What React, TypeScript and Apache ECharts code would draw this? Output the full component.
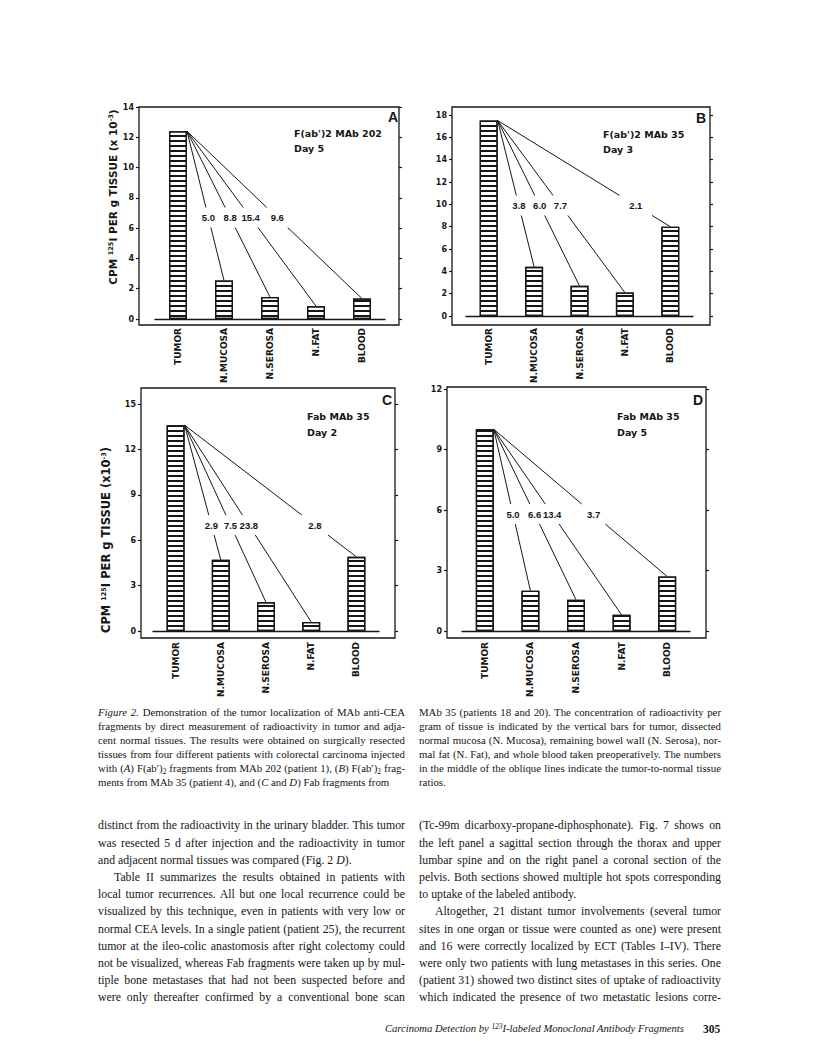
import React, { useEffect, useRef } from 'react';
import * as echarts from 'echarts';

// ---------- data ----------
const CATEGORIES = ['TUMOR', 'N.MUCOSA', 'N.SEROSA', 'N.FAT', 'BLOOD'];

const VALUES_A = [12.4, 2.55, 1.45, 0.85, 1.35];
const RATIOS_A = ['5.0', '8.8', '15.4', '9.6'];
const VALUES_B = [17.5, 4.4, 2.7, 2.1, 8.0];
const RATIOS_B = ['3.8', '6.0', '7.7', '2.1'];
const VALUES_C = [13.6, 4.7, 1.9, 0.6, 4.9];
const RATIOS_C = ['2.9', '7.5', '23.8', '2.8'];
const VALUES_D = [10.0, 2.0, 1.55, 0.8, 2.7];
const RATIOS_D = ['5.0', '6.6', '13.4', '3.7'];

const Y_MAX = [14, 18, 15, 12];
const Y_INTERVAL = [2, 2, 3, 3];
const RATIO_LABEL_LEVEL = [6.7, 9.9, 7.0, 5.8];

const PANEL_LETTERS = ['A', 'B', 'C', 'D'];
const PANEL_TITLES = ["F(ab')2 MAb 202", "F(ab')2 MAb 35", 'Fab MAb 35', 'Fab MAb 35'];
const PANEL_DAYS = ['Day 5', 'Day 3', 'Day 2', 'Day 5'];
const Y_TITLE_TOP = 'CPM {s|125}I PER g TISSUE (x 10{s|-3})';
const Y_TITLE_BOTTOM = 'CPM {s|125}I PER g TISSUE (x10{s|-3})';

const ALL_VALUES = [VALUES_A, VALUES_B, VALUES_C, VALUES_D];
const ALL_RATIOS = [RATIOS_A, RATIOS_B, RATIOS_C, RATIOS_D];

// ---------- layout (pixels) ----------
const LAYOUT = [
  { grid: { left: 155, top: 107, width: 230, height: 212 }, frame: [139, 107, 260, 218], leftOff: 16, rightOff: 14, catMargin: 9,
    letterAt: [398, 117], titleAt: [294, 133], dayAt: [294, 148], yTitle: Y_TITLE_TOP, yTitleAt: [113, 197], yTitleSize: 10.5 },
  { grid: { left: 466, top: 115, width: 227, height: 201 }, frame: [452, 107, 258, 218], leftOff: 14, rightOff: 17, catMargin: 12,
    letterAt: [706, 118], titleAt: [603, 134], dayAt: [603, 149], yTitle: null, yTitleAt: [0, 0], yTitleSize: 10 },
  { grid: { left: 153, top: 404, width: 226, height: 227 }, frame: [141, 388, 254, 250], leftOff: 12, rightOff: 16, catMargin: 11,
    letterAt: [392, 400], titleAt: [307, 416], dayAt: [307, 432], yTitle: Y_TITLE_BOTTOM, yTitleAt: [106, 540], yTitleSize: 11.5 },
  { grid: { left: 462, top: 389, width: 228, height: 242 }, frame: [447, 387, 259, 251], leftOff: 15, rightOff: 16, catMargin: 11,
    letterAt: [703, 400], titleAt: [617, 416], dayAt: [617, 432], yTitle: null, yTitleAt: [0, 0], yTitleSize: 10 },
];

const BAR_W = 18;
const INK = '#161616';
const SANS = '"DejaVu Sans", sans-serif';
const HELV = '"Liberation Sans", Arial, sans-serif';

function buildOption() {
  const grid: any[] = [];
  const xAxis: any[] = [];
  const yAxis: any[] = [];
  const series: any[] = [];
  const graphic: any[] = [];

  LAYOUT.forEach((L, k) => {
    const values = ALL_VALUES[k];
    const ratios = ALL_RATIOS[k];
    const level = RATIO_LABEL_LEVEL[k];

    grid.push({ ...L.grid, containLabel: false, outerBoundsMode: 'none' });
    xAxis.push({
      gridIndex: k, type: 'category', data: CATEGORIES,
      axisLine: { show: true, onZero: false, lineStyle: { color: INK, width: 1.3 } },
      axisTick: { show: false },
      axisLabel: { rotate: 90, interval: 0, margin: L.catMargin, color: INK, fontSize: 9, fontWeight: 'bold', fontFamily: SANS },
      splitLine: { show: false },
    });
    const yCommon = {
      gridIndex: k, type: 'value', min: 0, max: Y_MAX[k], interval: Y_INTERVAL[k],
      axisLine: { show: false },
      axisTick: { show: true, length: 3, lineStyle: { color: INK, width: 1.2 } },
      splitLine: { show: false },
    };
    yAxis.push({ ...yCommon, position: 'left', offset: L.leftOff,
      axisLabel: { show: true, margin: 5, color: INK, fontSize: 8, fontWeight: 'bold', fontFamily: SANS } });
    yAxis.push({ ...yCommon, position: 'right', offset: L.rightOff, axisLabel: { show: false } });

    series.push({
      type: 'bar', xAxisIndex: k, yAxisIndex: 2 * k, data: values, barWidth: BAR_W,
      itemStyle: {
        color: '#ffffff', borderColor: INK, borderWidth: 1.3,
        decal: { symbol: 'rect', symbolSize: 1, color: INK, backgroundColor: '#ffffff', dashArrayX: [1, 0], dashArrayY: [1.1, 2.1], rotation: 0 },
      },
      silent: true, z: 2,
    });

    series.push({
      type: 'custom', xAxisIndex: k, yAxisIndex: 2 * k, coordinateSystem: 'cartesian2d',
      data: ratios.map((_, i) => [i + 1, values[i + 1]]),
      encode: { x: 0, y: 1 },
      silent: true, z: 3,
      renderItem: (params: any, api: any) => {
        const idx = api.value(0);
        const v = api.value(1);
        const p0 = api.coord([0, values[0]]);
        const x0 = p0[0] + BAR_W / 2;
        const y0 = p0[1];
        const p1 = api.coord([idx, v]);
        const ly = api.coord([idx, level])[1];
        const at = (y: number) => x0 + ((y - y0) / (p1[1] - y0)) * (p1[0] - x0);
        const gap = 10;
        const ls = { stroke: INK, lineWidth: 1 };
        return {
          type: 'group',
          children: [
            { type: 'line', shape: { x1: x0, y1: y0, x2: at(ly - gap), y2: ly - gap }, style: ls },
            { type: 'line', shape: { x1: at(ly + gap), y1: ly + gap, x2: p1[0], y2: p1[1] }, style: ls },
            { type: 'text', style: { text: ratios[params.dataIndex], x: at(ly), y: ly, align: 'center', verticalAlign: 'middle',
              textAlign: 'center', textVerticalAlign: 'middle', font: `bold 9.5px ${HELV}`, fill: INK } },
          ],
        };
      },
    });

    const [fx, fy, fw, fh] = L.frame;
    graphic.push({ type: 'rect', silent: true, shape: { x: fx, y: fy, width: fw, height: fh }, style: { fill: 'none', stroke: INK, lineWidth: 1.3 } });
    graphic.push({ type: 'text', silent: true, x: L.letterAt[0], y: L.letterAt[1],
      style: { text: PANEL_LETTERS[k], font: `bold 14px ${HELV}`, fill: INK, align: 'right', verticalAlign: 'middle', textAlign: 'right', textVerticalAlign: 'middle' } });
    graphic.push({ type: 'text', silent: true, x: L.titleAt[0], y: L.titleAt[1],
      style: { text: PANEL_TITLES[k], font: `bold 9.5px ${SANS}`, fill: INK, align: 'left', verticalAlign: 'middle', textAlign: 'left', textVerticalAlign: 'middle' } });
    graphic.push({ type: 'text', silent: true, x: L.dayAt[0], y: L.dayAt[1],
      style: { text: PANEL_DAYS[k], font: `bold 9.5px ${SANS}`, fill: INK, align: 'left', verticalAlign: 'middle', textAlign: 'left', textVerticalAlign: 'middle' } });
    if (L.yTitle) {
      graphic.push({ type: 'text', silent: true, x: L.yTitleAt[0], y: L.yTitleAt[1], rotation: Math.PI / 2,
        style: { text: L.yTitle, font: `bold ${L.yTitleSize}px ${SANS}`, fill: INK, align: 'center', verticalAlign: 'middle',
          textAlign: 'center', textVerticalAlign: 'middle',
          rich: { s: { fontSize: 6.5, fontWeight: 'bold', fontFamily: 'DejaVu Sans', fill: INK, verticalAlign: 'top' } } } });
    }
  });

  return { animation: false, backgroundColor: '#ffffff', grid, xAxis, yAxis, series, graphic };
}

// ---------- page text ----------
type LineProps = { x: number; y: number; w: number; fs: number; lh: number; left?: boolean; indent?: number; children: React.ReactNode; style?: React.CSSProperties };
function Line({ x, y, w, fs, lh, left, indent, children, style }: LineProps) {
  return (
    <div style={{
      position: 'absolute', left: x, top: y - lh / 2, width: w, height: lh, lineHeight: `${lh}px`,
      fontFamily: '"Liberation Serif", "Times New Roman", serif', fontSize: fs, color: '#141414',
      textAlign: left ? 'left' : 'justify', textAlignLast: left ? 'left' : 'justify', whiteSpace: 'nowrap',
      textIndent: indent || 0, ...style,
    } as React.CSSProperties}>{children}</div>
  );
}

const CAP_FS = 10.8, CAP_LH = 14, BODY_FS = 11.8, BODY_LH = 17.2;
const LX = 98, LW = 307, RX = 419, RW = 302;
const cy = (i: number) => 712 + i * CAP_LH;
const by = (i: number) => 826 + i * BODY_LH;

const sub = (t: string) => <sub style={{ fontSize: '0.7em', verticalAlign: '-0.25em', lineHeight: 0 }}>{t}</sub>;
const sup = (t: string) => <sup style={{ fontSize: '0.7em', verticalAlign: '0.45em', lineHeight: 0 }}>{t}</sup>;

function PageText() {
  return (
    <>
      <Line x={LX} y={cy(0)} w={LW} fs={CAP_FS} lh={CAP_LH}><i>Figure 2.</i> Demonstration of the tumor localization of MAb anti-CEA</Line>
      <Line x={LX} y={cy(1)} w={LW} fs={CAP_FS} lh={CAP_LH}>fragments by direct measurement of radioactivity in tumor and adja-</Line>
      <Line x={LX} y={cy(2)} w={LW} fs={CAP_FS} lh={CAP_LH}>cent normal tissues. The results were obtained on surgically resected</Line>
      <Line x={LX} y={cy(3)} w={LW} fs={CAP_FS} lh={CAP_LH}>tissues from four different patients with colorectal carcinoma injected</Line>
      <Line x={LX} y={cy(4)} w={LW} fs={CAP_FS} lh={CAP_LH}>with (<i>A</i>) F(ab′){sub('2')} fragments from MAb 202 (patient 1), (<i>B</i>) F(ab′){sub('2')} frag-</Line>
      <Line x={LX} y={cy(5)} w={LW} fs={CAP_FS} lh={CAP_LH} left>ments from MAb 35 (patient 4), and (<i>C</i> and <i>D</i>) Fab fragments from</Line>

      <Line x={RX} y={cy(0)} w={RW} fs={CAP_FS} lh={CAP_LH}>MAb 35 (patients 18 and 20). The concentration of radioactivity per</Line>
      <Line x={RX} y={cy(1)} w={RW} fs={CAP_FS} lh={CAP_LH}>gram of tissue is indicated by the vertical bars for tumor, dissected</Line>
      <Line x={RX} y={cy(2)} w={RW} fs={CAP_FS} lh={CAP_LH}>normal mucosa (N. Mucosa), remaining bowel wall (N. Serosa), nor-</Line>
      <Line x={RX} y={cy(3)} w={RW} fs={CAP_FS} lh={CAP_LH}>mal fat (N. Fat), and whole blood taken preoperatively. The numbers</Line>
      <Line x={RX} y={cy(4)} w={RW} fs={CAP_FS} lh={CAP_LH}>in the middle of the oblique lines indicate the tumor-to-normal tissue</Line>
      <Line x={RX} y={cy(5)} w={RW} fs={CAP_FS} lh={CAP_LH} left>ratios.</Line>

      <Line x={LX} y={by(0)} w={LW} fs={BODY_FS} lh={BODY_LH}>distinct from the radioactivity in the urinary bladder. This tumor</Line>
      <Line x={LX} y={by(1)} w={LW} fs={BODY_FS} lh={BODY_LH}>was resected 5 d after injection and the radioactivity in tumor</Line>
      <Line x={LX} y={by(2)} w={LW} fs={BODY_FS} lh={BODY_LH} left>and adjacent normal tissues was compared (Fig. 2 <i>D</i>).</Line>
      <Line x={LX} y={by(3)} w={LW} fs={BODY_FS} lh={BODY_LH} indent={16}>Table II summarizes the results obtained in patients with</Line>
      <Line x={LX} y={by(4)} w={LW} fs={BODY_FS} lh={BODY_LH}>local tumor recurrences. All but one local recurrence could be</Line>
      <Line x={LX} y={by(5)} w={LW} fs={BODY_FS} lh={BODY_LH}>visualized by this technique, even in patients with very low or</Line>
      <Line x={LX} y={by(6)} w={LW} fs={BODY_FS} lh={BODY_LH}>normal CEA levels. In a single patient (patient 25), the recurrent</Line>
      <Line x={LX} y={by(7)} w={LW} fs={BODY_FS} lh={BODY_LH}>tumor at the ileo-colic anastomosis after right colectomy could</Line>
      <Line x={LX} y={by(8)} w={LW} fs={BODY_FS} lh={BODY_LH}>not be visualized, whereas Fab fragments were taken up by mul-</Line>
      <Line x={LX} y={by(9)} w={LW} fs={BODY_FS} lh={BODY_LH}>tiple bone metastases that had not been suspected before and</Line>
      <Line x={LX} y={by(10)} w={LW} fs={BODY_FS} lh={BODY_LH}>were only thereafter confirmed by a conventional bone scan</Line>

      <Line x={RX} y={by(0)} w={RW} fs={BODY_FS} lh={BODY_LH}>(Tc-99m dicarboxy-propane-diphosphonate). Fig. 7 shows on</Line>
      <Line x={RX} y={by(1)} w={RW} fs={BODY_FS} lh={BODY_LH}>the left panel a sagittal section through the thorax and upper</Line>
      <Line x={RX} y={by(2)} w={RW} fs={BODY_FS} lh={BODY_LH}>lumbar spine and on the right panel a coronal section of the</Line>
      <Line x={RX} y={by(3)} w={RW} fs={BODY_FS} lh={BODY_LH}>pelvis. Both sections showed multiple hot spots corresponding</Line>
      <Line x={RX} y={by(4)} w={RW} fs={BODY_FS} lh={BODY_LH} left>to uptake of the labeled antibody.</Line>
      <Line x={RX} y={by(5)} w={RW} fs={BODY_FS} lh={BODY_LH} indent={16}>Altogether, 21 distant tumor involvements (several tumor</Line>
      <Line x={RX} y={by(6)} w={RW} fs={BODY_FS} lh={BODY_LH}>sites in one organ or tissue were counted as one) were present</Line>
      <Line x={RX} y={by(7)} w={RW} fs={BODY_FS} lh={BODY_LH}>and 16 were correctly localized by ECT (Tables I–IV). There</Line>
      <Line x={RX} y={by(8)} w={RW} fs={BODY_FS} lh={BODY_LH}>were only two patients with lung metastases in this series. One</Line>
      <Line x={RX} y={by(9)} w={RW} fs={BODY_FS} lh={BODY_LH}>(patient 31) showed two distinct sites of uptake of radioactivity</Line>
      <Line x={RX} y={by(10)} w={RW} fs={BODY_FS} lh={BODY_LH}>which indicated the presence of two metastatic lesions corre-</Line>

      <Line x={385} y={1029} w={312} fs={10.6} lh={16} left><i>Carcinoma Detection by {sup('123')}I-labeled Monoclonal Antibody Fragments</i></Line>
      <Line x={703} y={1029} w={22} fs={11.5} lh={16} left style={{ fontWeight: 'bold' }}>305</Line>
    </>
  );
}

export default function App() {
  const ref = useRef<HTMLDivElement>(null);
  useEffect(() => {
    if (!ref.current) return;
    const chart = echarts.init(ref.current, null, { renderer: 'svg' });
    chart.setOption(buildOption() as any);
    return () => chart.dispose();
  }, []);
  return (
    <div style={{ position: 'absolute', left: 0, top: 0, width: 816, height: 1061, background: '#fff', overflow: 'hidden' }}>
      <div ref={ref} style={{ position: 'absolute', left: 0, top: 0, width: 816, height: 1061 }} />
      <div style={{ position: 'absolute', left: 0, top: 0, width: 816, height: 1061, pointerEvents: 'none' }}>
        <PageText />
      </div>
    </div>
  );
}
